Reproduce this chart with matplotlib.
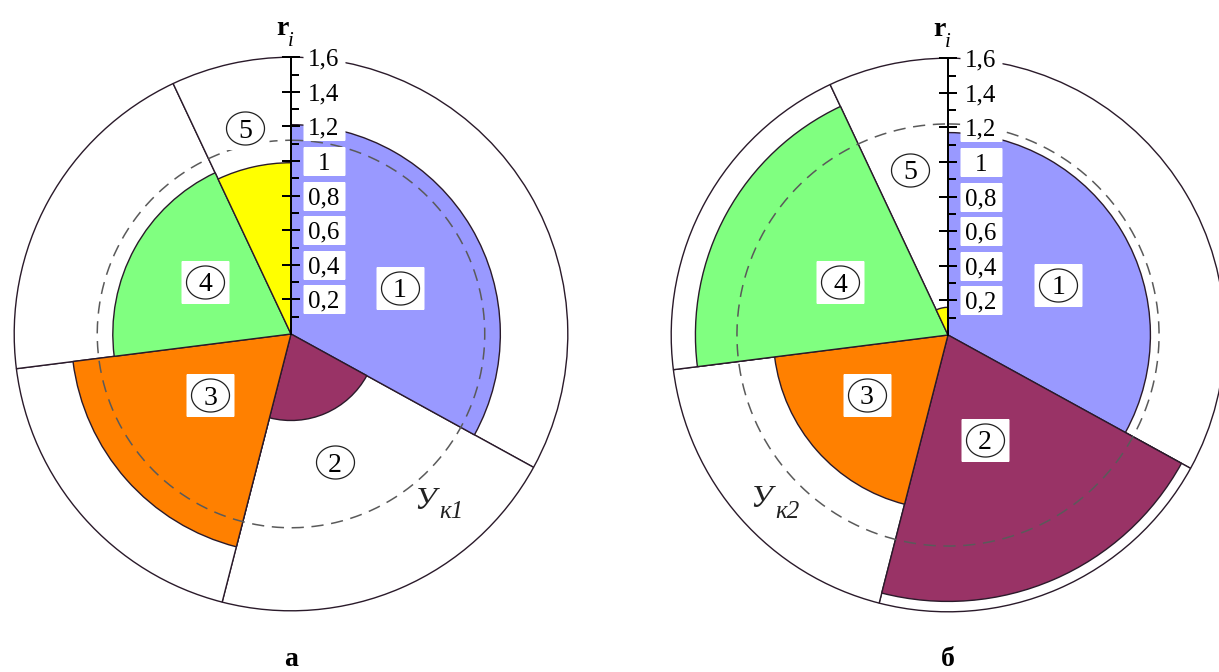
import numpy as np
import matplotlib
matplotlib.use("Agg")
import matplotlib.pyplot as plt
from matplotlib.path import Path
from matplotlib.transforms import ScaledTranslation

# Shares of the five sectors (angular width = share * 360°), clockwise from the top
shares = [0.33, 0.21, 0.19, 0.20, 0.07]
sector_ids = ["1", "2", "3", "4", "5"]
sector_colors = ["#9999ff", "#993366", "#ff8000", "#80ff80", "#ffff00"]

# Radial values r_i for the two variants
r_a = [1.21, 0.50, 1.27, 1.03, 0.99]
r_b = [1.17, 1.54, 1.01, 1.46, 0.16]
r_limit = [1.6, 1.6, 1.6, 1.6, 1.6]

# Critical levels У_к1 and У_к2
uk_a = 1.12
uk_b = 1.22

# Radial scale
tick_values = [0.2, 0.4, 0.6, 0.8, 1.0, 1.2, 1.4, 1.6]
tick_labels = ["0,2", "0,4", "0,6", "0,8", "1", "1,2", "1,4", "1,6"]
minor_values = [0.1, 0.3, 0.5, 0.7, 0.9, 1.1, 1.3, 1.5]

captions = ["а", "б"]
uk_suffix = ["1", "2"]

W, H, DPI = 1219, 672, 100
SCALE = 173.0          # pixels per unit of r
RMAX = 1.65
SERIF = "Liberation Serif"
EDGE = "#2a1a2a"

fig = plt.figure(figsize=(W / DPI, H / DPI), dpi=DPI)
fig.patch.set_facecolor("white")

# marker shapes (in pixels -> points)
PT = 72.0 / DPI
rect_box = [(-1, -0.875), (1, -0.875), (1, 0.875), (-1, 0.875), (-1, -0.875)]
tick_box = [(-1, -0.65), (1, -0.65), (1, 0.65), (-1, 0.65), (-1, -0.65)]
tt = np.linspace(0, 2 * np.pi, 80)
ellipse = list(zip(np.cos(tt), 0.87 * np.sin(tt)))
right_tick = Path([(0, 0), (1, 0)], [Path.MOVETO, Path.LINETO])

# label placement (bearing in degrees, radius) for the circled numbers
label_pos = [
    [(67.1, 0.684), (161.0, 0.783), (233.0, 0.586), (301.2, 0.581), (347.4, 1.22)],
    [(65.6, 0.700), (160.6, 0.643), (233.5, 0.583), (296.1, 0.695), (347.0, 0.979)],
]
# placement of the У_к texts (bearing, radius) for "У" and the subscript
uk_pos = [
    [(141.4, 1.242), (138.0, 1.383)],
    [(228.6, 1.442), (222.3, 1.383)],
]
centers = [(291, 334), (948, 335)]


def draw_chart(k, radii, uk):
    cx, cy = centers[k]
    half = RMAX * SCALE
    ax = fig.add_axes([(cx - half) / W, (H - cy - half) / H, 2 * half / W, 2 * half / H],
                      projection="polar")
    ax.set_theta_zero_location("N")
    ax.set_theta_direction(-1)
    ax.set_ylim(0, RMAX)
    ax.grid(False)
    ax.set_xticks([])
    ax.set_yticks([])
    ax.spines["polar"].set_visible(False)
    ax.patch.set_visible(False)

    widths = 2 * np.pi * np.array(shares)
    starts = np.concatenate([[0], np.cumsum(widths)[:-1]])

    ax.bar(starts, r_limit, width=widths, bottom=0, align="edge",
           color="white", edgecolor=EDGE, linewidth=1.0, zorder=1)
    ax.bar(starts, radii, width=widths, bottom=0, align="edge",
           color=sector_colors, edgecolor=EDGE, linewidth=1.0, zorder=2)

    # critical level circle
    t = np.linspace(0, 2 * np.pi, 500)
    ax.plot(t, np.full_like(t, uk), color="#5a5a5a", lw=1.1,
            ls=(0, (8, 5)), zorder=3)

    # radial axis
    ax.plot([0, 0], [0, 1.6], color="black", lw=1.4, zorder=5)
    ax.plot(np.zeros(len(tick_values)), tick_values, ls="none", marker="_",
            ms=18 * PT, mec="black", mew=1.2, zorder=5)
    ax.plot(np.zeros(len(minor_values)), minor_values, ls="none", marker=right_tick,
            ms=16 * PT, mec="black", mew=1.2, zorder=5)

    shift = ax.transData + ScaledTranslation(33 / DPI, 0, fig.dpi_scale_trans)
    ax.plot(np.zeros(len(tick_values)), tick_values, ls="none", marker=tick_box,
            ms=43 * PT, mfc="white", mec="none", transform=shift, zorder=6)
    for v, lab in zip(tick_values, tick_labels):
        ax.annotate(lab, xy=(0, v), xytext=(33, 0), textcoords="offset pixels",
                    ha="center", va="center_baseline", fontsize=18,
                    family=SERIF, zorder=7)

    # circled sector numbers
    th = [np.deg2rad(b) for b, _ in label_pos[k]]
    rr = [r for _, r in label_pos[k]]
    ax.plot(th, rr, ls="none", marker=rect_box, ms=48 * PT, mfc="white",
            mec="none", zorder=6)
    ax.plot(th, rr, ls="none", marker=ellipse, ms=38 * PT, mfc="none",
            mec="#202020", mew=0.9, zorder=7)
    for a, r, s in zip(th, rr, sector_ids):
        ax.text(a, r, s, ha="center", va="center_baseline", fontsize=20,
                family=SERIF, zorder=8)

    # r_i label
    ax.annotate("r", xy=(0, 1.6), xytext=(-9, 29), textcoords="offset pixels",
                ha="center", va="center", fontsize=20, fontweight="bold",
                family=SERIF, annotation_clip=False)
    ax.annotate("i", xy=(0, 1.6), xytext=(0, 16), textcoords="offset pixels",
                ha="center", va="center", fontsize=15, style="italic",
                family=SERIF, annotation_clip=False)

    # У_к label
    (b1, q1), (b2, q2) = uk_pos[k]
    ax.text(np.deg2rad(b1), q1, "У", ha="center", va="center", fontsize=23,
            style="italic", family=SERIF, color="#222222", zorder=8)
    ax.text(np.deg2rad(b2), q2, "к" + uk_suffix[k], ha="center", va="center",
            fontsize=18, style="italic", family=SERIF, color="#222222", zorder=8)

    fig.text(cx / W, 1 - 659 / H, captions[k], ha="center", va="center",
             fontsize=20, fontweight="bold", family=SERIF)
    return ax


draw_chart(0, r_a, uk_a)
draw_chart(1, r_b, uk_b)

fig.savefig("out.png", dpi=DPI, facecolor="white")
